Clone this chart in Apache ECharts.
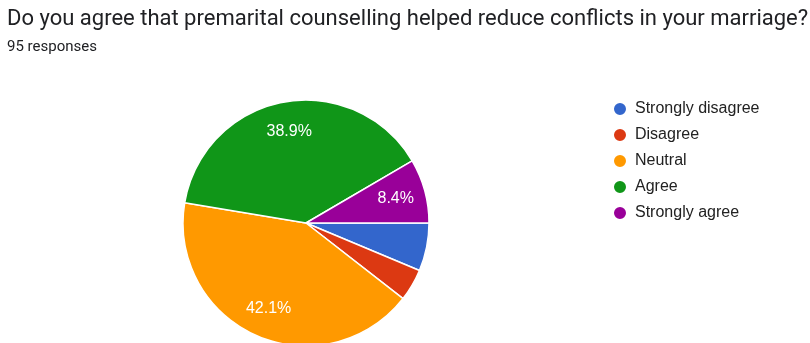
<!DOCTYPE html>
<html>
<head>
<meta charset="utf-8">
<script src="https://cdn.jsdelivr.net/npm/echarts@6/dist/echarts.min.js"></script>
<style>
html,body{margin:0;padding:0;background:#fff;}
#myChart{width:810px;height:343px;}
</style>
</head>
<body>
<div id="myChart"></div>
<script type="text/javascript">
// answers and their counts (95 responses)
var categories = ['Strongly disagree', 'Disagree', 'Neutral', 'Agree', 'Strongly agree'];
var counts = [6, 4, 40, 37, 8];
var colors = ['#3366cc', '#dc3912', '#ff9900', '#109618', '#990099'];

var total = 0;
for (var i = 0; i < counts.length; i++) total += counts[i];

var pieData = [];
for (var i = 0; i < categories.length; i++) {
    pieData.push({name: categories[i], value: counts[i], itemStyle: {color: colors[i]}});
}

var center = [306, 223];

var option = {
    animation: false,
    title: [
        {
            text: 'Do you agree that premarital counselling helped reduce conflicts in your marriage?',
            left: 7, top: 8, padding: 0,
            textStyle: {fontFamily: 'Roboto', fontSize: 22, fontWeight: 'normal', color: '#202124'}
        },
        {
            text: total + ' responses',
            left: 7, top: 40, padding: 0,
            textStyle: {fontFamily: 'Roboto', fontSize: 15, fontWeight: 'normal', color: '#202124'}
        }
    ],
    legend: {
        orient: 'vertical',
        left: 612, top: 101,
        padding: 0,
        icon: 'circle',
        itemWidth: 14, itemHeight: 14,
        itemGap: 10,
        textStyle: {fontFamily: 'Liberation Sans', fontSize: 16, color: '#222', padding: [0, 0, 0, 3]},
        data: categories
    },
    series: [
        {
            name: 'answers',
            type: 'pie',
            radius: 123,
            center: center,
            startAngle: 0,
            clockwise: true,
            itemStyle: {borderColor: '#fff', borderWidth: 1.5},
            label: {show: false},
            labelLine: {show: false},
            emphasis: {disabled: true},
            data: pieData
        },
        {
            // transparent ring just for placing percentage labels
            name: 'labels',
            type: 'pie',
            radius: [57, 123],
            center: center,
            startAngle: 0,
            clockwise: true,
            silent: true,
            minShowLabelAngle: 25,
            itemStyle: {color: 'rgba(0,0,0,0)', borderWidth: 0},
            label: {
                show: true,
                position: 'inside',
                fontFamily: 'Liberation Sans',
                fontSize: 16,
                color: '#fff',
                formatter: function (p) {
                    return (p.value / total * 100).toFixed(1) + '%';
                }
            },
            labelLine: {show: false},
            emphasis: {disabled: true},
            data: pieData.map(function (d) { return {name: d.name, value: d.value}; })
        }
    ]
};

echarts.init(document.getElementById('myChart')).setOption(option);
</script>
</body>
</html>
